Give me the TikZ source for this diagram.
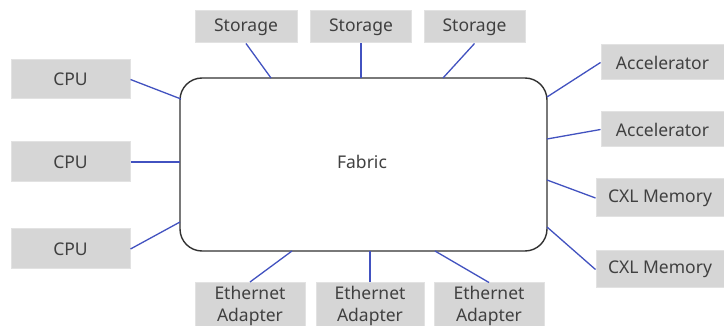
\documentclass[tikz,border=0pt]{standalone}
\usepackage{fontspec}
\setmainfont{Noto Sans}
\definecolor{boxfill}{RGB}{214,214,214}
\definecolor{boxline}{RGB}{226,226,226}
\definecolor{txt}{RGB}{64,64,64}
\definecolor{link}{RGB}{66,82,192}
\definecolor{fabline}{RGB}{50,50,50}
\begin{document}
\begin{tikzpicture}[x=1pt,y=-1pt,
  dev/.style={draw=boxline,line width=1pt,fill=boxfill,text=txt,inner sep=0pt,
    font=\fontsize{17.5}{22}\selectfont,align=center},
  conn/.style={draw=link,line width=1.3pt}]
\useasboundingbox (0,0) rectangle (724,326);
\clip (0,0) rectangle (724,326);
\fill[white] (0,0) rectangle (724,326);
% fabric
\draw[fabline,line width=1.4pt,fill=white,rounded corners=22pt] (180,78) rectangle (547,251);
\node[text=txt,font=\fontsize{17.5}{22}\selectfont] (fab) at (362,162) {Fabric};
% devices
\node[dev,minimum width=119pt,minimum height=39pt] (cpu1) at (70.5,79.5) {CPU};
\node[dev,minimum width=119pt,minimum height=40pt] (cpu2) at (70.5,162) {CPU};
\node[dev,minimum width=119pt,minimum height=40pt] (cpu3) at (70.5,249) {CPU};
\node[dev,minimum width=102pt,minimum height=32pt] (st1) at (246,27) {Storage};
\node[dev,minimum width=101pt,minimum height=32pt] (st2) at (361,27) {Storage};
\node[dev,minimum width=101pt,minimum height=32pt] (st3) at (474.5,27) {Storage};
\node[dev,minimum width=123pt,minimum height=35pt] (acc1) at (662.5,62.5) {Accelerator};
\node[dev,minimum width=123pt,minimum height=35pt] (acc2) at (662.5,129.5) {Accelerator};
\node[dev,minimum width=128pt,minimum height=38pt] (cxl1) at (660,198) {CXL Memory};
\node[dev,minimum width=128pt,minimum height=37pt] (cxl2) at (660,269.5) {CXL Memory};
\node[dev,minimum width=110pt,minimum height=46pt,anchor=north] (eth1) at (250,282) {Ethernet\\Adapter};
\node[dev,minimum width=108pt,minimum height=46pt,anchor=north] (eth2) at (370,282) {Ethernet\\Adapter};
\node[dev,minimum width=110pt,minimum height=46pt,anchor=north] (eth3) at (489,282.5) {Ethernet\\Adapter};
% attach points on fabric border
\coordinate (pc1) at (181,99);
\coordinate (pc2) at (180,162);
\coordinate (pc3) at (180,222);
\coordinate (ps1) at (271,78);
\coordinate (ps2) at (361,78);
\coordinate (ps3) at (443,78);
\coordinate (pa1) at (547,97);
\coordinate (pa2) at (547,139);
\coordinate (pm1) at (547,180);
\coordinate (pm2) at (547,227);
\coordinate (pe1) at (292,251);
\coordinate (pe2) at (370,251);
\coordinate (pe3) at (435,251);
% connectors
\draw[conn] (cpu1.east) -- (pc1);
\draw[conn] (cpu2.east) -- (pc2);
\draw[conn] (cpu3.east) -- (pc3);
\draw[conn] (st1.south) -- (ps1);
\draw[conn] (st2.south) -- (ps2);
\draw[conn] (st3.south) -- (ps3);
\draw[conn] (acc1.west) -- (pa1);
\draw[conn] (acc2.west) -- (pa2);
\draw[conn] (cxl1.west) -- (pm1);
\draw[conn] (cxl2.west) -- (pm2);
\draw[conn] (eth1.north) -- (pe1);
\draw[conn] (eth2.north) -- (pe2);
\draw[conn] (eth3.north) -- (pe3);
\end{tikzpicture}
\end{document}
